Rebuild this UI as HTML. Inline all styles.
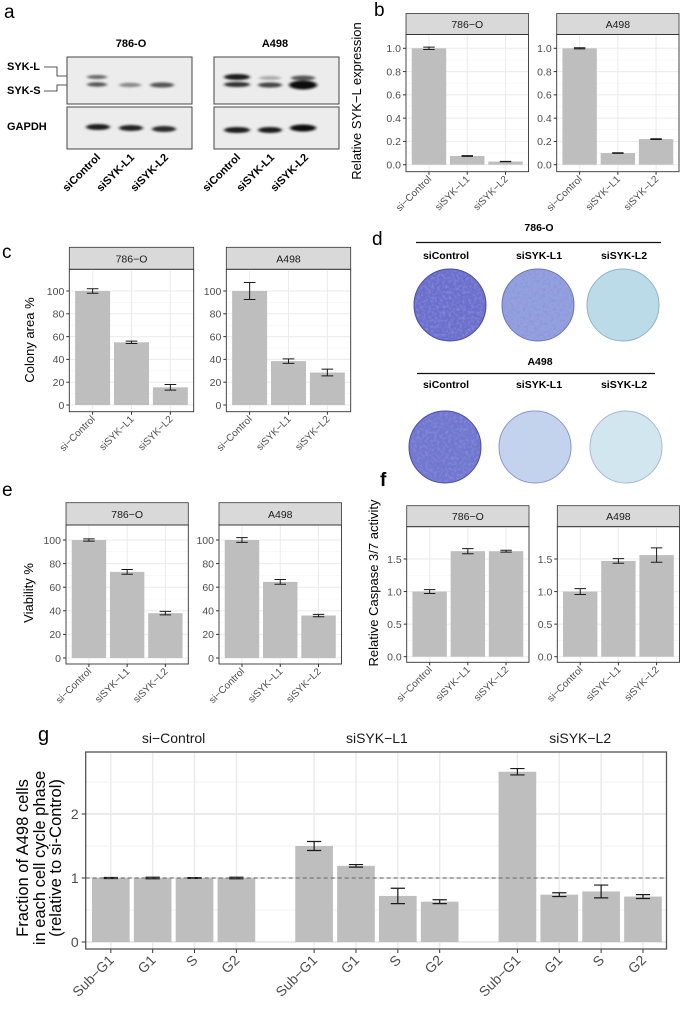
<!DOCTYPE html>
<html><head><meta charset="utf-8">
<style>
body{margin:0;background:#fff;}
svg{display:block;font-family:"Liberation Sans",Arial,sans-serif;}
</style></head>
<body>
<svg id="fig" width="680" height="1009" viewBox="0 0 680 1009" xmlns="http://www.w3.org/2000/svg">
<defs>
<filter id="blur" x="-30%" y="-100%" width="160%" height="300%"><feGaussianBlur stdDeviation="1.6 1.1"/></filter>
<filter id="speck" x="0" y="0" width="100%" height="100%">
<feTurbulence type="fractalNoise" baseFrequency="0.35" numOctaves="2" seed="3" result="n"/>
<feColorMatrix in="n" type="matrix" values="0 0 0 0 0.25  0 0 0 0 0.25  0 0 0 0 0.7  0 0 0 -2.2 1.3" result="m"/>
<feComposite in="m" in2="SourceGraphic" operator="in"/>
</filter>
</defs>

<!-- panel a -->
<g>
<text x="4" y="18" font-size="19">a</text>
<text x="131" y="47" font-size="11" font-weight="bold" text-anchor="middle">786-O</text>
<text x="275" y="47" font-size="11" font-weight="bold" text-anchor="middle">A498</text>
<text x="7" y="70" font-size="11" font-weight="bold">SYK-L</text>
<text x="7" y="94" font-size="11" font-weight="bold">SYK-S</text>
<text x="7" y="130" font-size="11" font-weight="bold">GAPDH</text>
<polyline points="44,67 57,67 57,76 68,76" fill="none" stroke="#222" stroke-width="0.8"/>
<polyline points="44,91 57,91 57,85 68,85" fill="none" stroke="#222" stroke-width="0.8"/>
<rect x="67" y="57" width="125" height="47" fill="#ececec" stroke="#444"/>
<rect x="67" y="107" width="125" height="42" fill="#ececec" stroke="#444"/>
<rect x="214" y="57" width="125" height="47" fill="#ececec" stroke="#444"/>
<rect x="214" y="107" width="125" height="42" fill="#ececec" stroke="#444"/>
<g filter="url(#blur)">
<ellipse cx="97" cy="77" rx="10" ry="2" fill="#666"/>
<ellipse cx="97" cy="84.5" rx="10" ry="2.2" fill="#555"/>
<ellipse cx="130" cy="85" rx="11" ry="2.2" fill="#888"/>
<ellipse cx="162" cy="85" rx="12" ry="2.6" fill="#555"/>
<ellipse cx="98" cy="127" rx="12" ry="3" fill="#1a1a1a"/>
<ellipse cx="131" cy="128" rx="12" ry="3" fill="#222"/>
<ellipse cx="164" cy="129" rx="12" ry="3" fill="#2a2a2a"/>
<ellipse cx="237" cy="77" rx="13" ry="3" fill="#1a1a1a"/>
<ellipse cx="237" cy="84.5" rx="13" ry="2.6" fill="#333"/>
<ellipse cx="270" cy="78" rx="11" ry="2" fill="#aaa"/>
<ellipse cx="270" cy="85" rx="12" ry="2.6" fill="#444"/>
<ellipse cx="303" cy="78" rx="12" ry="2.5" fill="#555"/>
<ellipse cx="303" cy="85" rx="14" ry="4.5" fill="#111"/>
<ellipse cx="237" cy="130" rx="13" ry="3" fill="#1a1a1a"/>
<ellipse cx="270" cy="130" rx="12" ry="3" fill="#1a1a1a"/>
<ellipse cx="303" cy="128" rx="13" ry="3.5" fill="#111"/>
</g>
<g font-size="11" font-weight="bold" text-anchor="end">
<text transform="translate(101,158) rotate(-45)">siControl</text>
<text transform="translate(135,158) rotate(-45)">siSYK-L1</text>
<text transform="translate(169,158) rotate(-45)">siSYK-L2</text>
<text transform="translate(241,158) rotate(-45)">siControl</text>
<text transform="translate(275,158) rotate(-45)">siSYK-L1</text>
<text transform="translate(309,158) rotate(-45)">siSYK-L2</text>
</g>
</g>

<!-- panel d -->
<g>
<text x="372" y="245" font-size="19">d</text>
<text x="539" y="231" font-size="10.5" font-weight="bold" text-anchor="middle">786-O</text>
<line x1="416" y1="242.5" x2="661" y2="242.5" stroke="#111" stroke-width="1.3"/>
<g font-size="10.5" font-weight="bold" text-anchor="middle">
<text x="446" y="259">siControl</text>
<text x="539" y="259">siSYK-L1</text>
<text x="624" y="259">siSYK-L2</text>
</g>
<text x="540" y="365" font-size="10.5" font-weight="bold" text-anchor="middle">A498</text>
<line x1="417" y1="373.5" x2="655" y2="373.5" stroke="#111" stroke-width="1.3"/>
<g font-size="10.5" font-weight="bold" text-anchor="middle">
<text x="446" y="388">siControl</text>
<text x="539" y="388">siSYK-L1</text>
<text x="624" y="388">siSYK-L2</text>
</g>
<g><circle cx="450" cy="305" r="36" fill="#6a6fcb" stroke="#4a4fa8"/><circle cx="450" cy="305" r="35" fill="#8e95d8" filter="url(#speck)"/></g>
<g><circle cx="538" cy="305" r="36" fill="#93a2de" stroke="#6a74c0"/><circle cx="538" cy="305" r="35" fill="#aab6e4" filter="url(#speck)" opacity="0.6"/></g>
<g><circle cx="623" cy="305" r="36" fill="#bcdbe8" stroke="#8fb3cc"/></g>
<g><circle cx="445" cy="447" r="36" fill="#7077cf" stroke="#4a4fa8"/><circle cx="445" cy="447" r="35" fill="#98a0dc" filter="url(#speck)"/></g>
<g><circle cx="535" cy="447" r="36" fill="#c3d3ee" stroke="#8a96d0"/></g>
<g><circle cx="626" cy="447" r="36" fill="#d2e6f0" stroke="#a6b8d8"/></g>
</g>

<text x="374" y="16" font-size="19">b</text>
<text x="2" y="258" font-size="19">c</text>
<text x="2" y="496" font-size="19">e</text>
<text x="380" y="486" font-size="19" font-weight="bold">f</text>
<text x="38" y="741" font-size="20">g</text>

<g id="charts"></g>
</svg>

<script>
// ---- data ----
const catsBCEF = ["si\u2212Control", "siSYK\u2212L1", "siSYK\u2212L2"];
const facetNames = ["786\u2212O", "A498"];
// panel b
const bVals786 = [1.0, 0.075, 0.027];
const bErr786 = [0.01, 0.003, 0.002];
const bValsA498 = [1.0, 0.10, 0.22];
const bErrA498 = [0.005, 0.003, 0.003];
const bTicks = [0, 0.2, 0.4, 0.6, 0.8, 1.0];
const bTickLabels = ["0.0", "0.2", "0.4", "0.6", "0.8", "1.0"];
// panel c
const cVals786 = [100, 55, 15.5];
const cErr786 = [2, 1, 2.5];
const cValsA498 = [100, 38.5, 28.5];
const cErrA498 = [7.5, 2, 3];
const pctTicks = [0, 20, 40, 60, 80, 100];
const pctTickLabels = ["0", "20", "40", "60", "80", "100"];
// panel e
const eVals786 = [100, 73, 38];
const eErr786 = [1, 2, 1.5];
const eValsA498 = [100, 64.5, 36];
const eErrA498 = [2, 2, 1];
// panel f
const fVals786 = [1.0, 1.62, 1.62];
const fErr786 = [0.03, 0.04, 0.015];
const fValsA498 = [1.0, 1.47, 1.56];
const fErrA498 = [0.045, 0.035, 0.11];
const fTicks = [0, 0.5, 1.0, 1.5];
const fTickLabels = ["0.0", "0.5", "1.0", "1.5"];
// panel g
const gFacets = ["si\u2212Control", "siSYK\u2212L1", "siSYK\u2212L2"];
const gCats = ["Sub\u2212G1", "G1", "S", "G2"];
const gValsControl = [1.0, 1.0, 1.0, 1.0];
const gErrControl = [0.008, 0.012, 0.006, 0.012];
const gValsL1 = [1.5, 1.19, 0.72, 0.63];
const gErrL1 = [0.07, 0.02, 0.12, 0.03];
const gValsL2 = [2.66, 0.74, 0.79, 0.71];
const gErrL2 = [0.05, 0.03, 0.1, 0.03];
const gTicks = [0, 1, 2];
const gTickLabels = ["0", "1", "2"];

const NS = "http://www.w3.org/2000/svg";
const root = document.getElementById("charts");
function mk(tag, attrs, parent) {
  const e = document.createElementNS(NS, tag);
  for (const k in attrs) e.setAttribute(k, attrs[k]);
  (parent || root).appendChild(e);
  return e;
}
function linScale(v0, p0, v1, p1) { return v => p0 + (v - v0) * (p1 - p0) / (v1 - v0); }

function facetPanel(o) {
  const g = mk("g", {});
  
  
  const y = o.y;
  const W = o.x1 - o.x0;
  const step = W / (o.cats.length - 1 + 1.2);
  const xc = i => o.x0 + 0.6 * step + i * step;
  mk("rect", {x: o.x0, y: o.stripTop, width: W, height: o.pTop - o.stripTop, fill: "#d9d9d9", stroke: "#333", "stroke-width": 0.8}, g);
  const st = mk("text", {x: (o.x0 + o.x1) / 2, y: (o.stripTop + o.pTop) / 2 + 4, "font-size": 10.5, fill: "#1a1a1a", "text-anchor": "middle"}, g);
  st.textContent = o.title;
  
  
  // grid
  for (let i = 0; i < o.minor.length; i++) {
    mk("line", {x1: o.x0, x2: o.x1, y1: y(o.minor[i]), y2: y(o.minor[i]), stroke: "#f2f2f2", "stroke-width": 0.5}, g);
  }
  for (let i = 0; i < o.ticks.length; i++) {
    mk("line", {x1: o.x0, x2: o.x1, y1: y(o.ticks[i]), y2: y(o.ticks[i]), stroke: "#ebebeb", "stroke-width": 1}, g);
  }
  for (let i = 0; i < o.cats.length; i++) {
    mk("line", {x1: xc(i), x2: xc(i), y1: o.pTop, y2: o.pBot, stroke: "#ebebeb", "stroke-width": 1}, g);
  }
  // bars
  for (let i = 0; i < o.vals.length; i++) {
    const b = mk("rect", {x: xc(i) - 0.45 * step, y: y(o.vals[i]), width: 0.9 * step, height: y(0) - y(o.vals[i]), fill: "#bebebe"}, g);
    
    
    const lo = y(o.vals[i] - o.errs[i]), hi = y(o.vals[i] + o.errs[i]);
    const hw = 0.15 * step;
    const eb = mk("path", {d: `M${xc(i)-hw},${hi}H${xc(i)+hw}M${xc(i)},${hi}V${lo}M${xc(i)-hw},${lo}H${xc(i)+hw}`, stroke: "#1a1a1a", "stroke-width": 1, fill: "none"}, g);
    
    
  }
  if (o.hline !== undefined) {
    mk("line", {x1: o.x0, x2: o.x1, y1: y(o.hline), y2: y(o.hline), stroke: "#666", "stroke-width": 1, "stroke-dasharray": "4,3"}, g);
  }
  mk("rect", {x: o.x0, y: o.pTop, width: W, height: o.pBot - o.pTop, fill: "none", stroke: "#333", "stroke-width": 0.9}, g);
  // y ticks
  for (let i = 0; i < o.ticks.length; i++) {
    mk("line", {x1: o.x0 - 3, x2: o.x0, y1: y(o.ticks[i]), y2: y(o.ticks[i]), stroke: "#333"}, g);
    const t = mk("text", {x: o.x0 - 5, y: y(o.ticks[i]) + 3.8, "font-size": o.tfs || 10.5, fill: "#4d4d4d", "text-anchor": "end"}, g);
    t.textContent = o.tickLabels[i];
    
    
  }
  // x ticks
  for (let i = 0; i < o.cats.length; i++) {
    mk("line", {x1: xc(i), x2: xc(i), y1: o.pBot, y2: o.pBot + 3, stroke: "#333"}, g);
    const t = mk("text", {transform: `translate(${xc(i) + 3},${o.pBot + 8}) rotate(-45)`, "font-size": o.xfs || 10, fill: "#4d4d4d", "text-anchor": "end"}, g);
    t.textContent = o.cats[i];
    
    
  }
}
function yTitle(txt, x, yc, fs, name) {
  const t = mk("text", {transform: `translate(${x},${yc}) rotate(-90)`, "font-size": fs, fill: "#000", "text-anchor": "middle"});
  t.textContent = txt;
  
  
}
function minorOf(ticks) {
  const m = [];
  for (let i = 0; i < ticks.length - 1; i++) m.push((ticks[i] + ticks[i + 1]) / 2);
  return m;
}

// panel b
const yb = linScale(0, 164.7, 1, 48.3);
facetPanel({name: "panel-b-786-o", title: facetNames[0], cats: catsBCEF, vals: bVals786, errs: bErr786, x0: 406, x1: 528.5, stripTop: 13.5, pTop: 34.5, pBot: 171.7, y: yb, ticks: bTicks, tickLabels: bTickLabels, minor: minorOf(bTicks)});
facetPanel({name: "panel-b-a498", title: facetNames[1], cats: catsBCEF, vals: bValsA498, errs: bErrA498, x0: 556.7, x1: 679, stripTop: 13.5, pTop: 34.5, pBot: 171.7, y: yb, ticks: bTicks, tickLabels: bTickLabels, minor: minorOf(bTicks)});
yTitle("Relative SYK\u2212L expression", 361, 101, 13, "y-axis-title-b");

// panel c
const yc = linScale(0, 405, 100, 291);
facetPanel({name: "panel-c-786-o", title: facetNames[0], cats: catsBCEF, vals: cVals786, errs: cErr786, x0: 69.3, x1: 193.7, stripTop: 247.3, pTop: 269.3, pBot: 411.7, y: yc, ticks: pctTicks, tickLabels: pctTickLabels, minor: minorOf(pctTicks)});
facetPanel({name: "panel-c-a498", title: facetNames[1], cats: catsBCEF, vals: cValsA498, errs: cErrA498, x0: 226.3, x1: 350.7, stripTop: 247.3, pTop: 269.3, pBot: 411.7, y: yc, ticks: pctTicks, tickLabels: pctTickLabels, minor: minorOf(pctTicks)});
yTitle("Colony area %", 34, 340, 13, "y-axis-title-c");

// panel e
const ye = linScale(0, 658, 100, 540);
facetPanel({name: "panel-e-786-o", title: facetNames[0], cats: catsBCEF, vals: eVals786, errs: eErr786, x0: 66, x1: 188.3, stripTop: 502.7, pTop: 525, pBot: 664, y: ye, ticks: pctTicks, tickLabels: pctTickLabels, minor: minorOf(pctTicks)});
facetPanel({name: "panel-e-a498", title: facetNames[1], cats: catsBCEF, vals: eValsA498, errs: eErrA498, x0: 219, x1: 341.5, stripTop: 502.7, pTop: 525, pBot: 664, y: ye, ticks: pctTicks, tickLabels: pctTickLabels, minor: minorOf(pctTicks)});
yTitle("Viability %", 33, 593, 13, "y-axis-title-e");

// panel f
const yf = linScale(0, 656.7, 1.5, 559);
facetPanel({name: "panel-f-786-o", title: facetNames[0], cats: catsBCEF, vals: fVals786, errs: fErr786, x0: 406.7, x1: 529, stripTop: 505.7, pTop: 526.7, pBot: 662.3, y: yf, ticks: fTicks, tickLabels: fTickLabels, minor: minorOf(fTicks)});
facetPanel({name: "panel-f-a498", title: facetNames[1], cats: catsBCEF, vals: fValsA498, errs: fErrA498, x0: 557.3, x1: 679.5, stripTop: 505.7, pTop: 526.7, pBot: 662.3, y: yf, ticks: fTicks, tickLabels: fTickLabels, minor: minorOf(fTicks)});
yTitle("Relative Caspase 3/7 activity", 378, 583, 13, "y-axis-title-f");

// panel g
(function () {
  const y = linScale(0, 942, 1, 878);
  const X0 = 85.7, X1 = 666.5, top = 752, bot = 949;
  const facetW = 175.8, gap = 27.5;
  const step = facetW / 4.2;
  const vals = [gValsControl, gValsL1, gValsL2];
  const errs = [gErrControl, gErrL1, gErrL2];
  const xc = (f, i) => X0 + f * (facetW + gap) + 0.6 * step + i * step;
  const g = mk("g", {});
  
  
  const minor = [0.5, 1.5, 2.5];
  for (const m of minor) mk("line", {x1: X0, x2: X1, y1: y(m), y2: y(m), stroke: "#f2f2f2", "stroke-width": 1}, g);
  for (const t of gTicks) mk("line", {x1: X0, x2: X1, y1: y(t), y2: y(t), stroke: "#ebebeb", "stroke-width": 2}, g);
  for (let f = 0; f < 3; f++) for (let i = 0; i < gCats.length; i++)
    mk("line", {x1: xc(f, i), x2: xc(f, i), y1: top, y2: bot, stroke: "#ebebeb", "stroke-width": 1.5}, g);
  for (let f = 0; f < 3; f++) {
    const ft = mk("text", {x: X0 + f * (facetW + gap) + facetW / 2, y: 743, "font-size": 14, fill: "#1a1a1a", "text-anchor": "middle"}, g);
    ft.textContent = gFacets[f];
    
    
    for (let i = 0; i < gCats.length; i++) {
      const v = vals[f][i], e = errs[f][i], x = xc(f, i);
      const b = mk("rect", {x: x - 0.45 * step, y: y(v), width: 0.9 * step, height: y(0) - y(v), fill: "#bebebe"}, g);
      
      
      const hw = 0.17 * step, hi = y(v + e), lo = y(v - e);
      const eb = mk("path", {d: `M${x-hw},${hi}H${x+hw}M${x},${hi}V${lo}M${x-hw},${lo}H${x+hw}`, stroke: "#1a1a1a", "stroke-width": 1.2, fill: "none"}, g);
      
      
      mk("line", {x1: x, x2: x, y1: bot, y2: bot + 4, stroke: "#333"}, g);
      const t = mk("text", {transform: `translate(${x + 4},${bot + 12}) rotate(-45)`, "font-size": 14, fill: "#4d4d4d", "text-anchor": "end"}, g);
      t.textContent = gCats[i];
      
      
    }
  }
  mk("line", {x1: X0, x2: X1, y1: y(1), y2: y(1), stroke: "#666", "stroke-width": 1, "stroke-dasharray": "4,3"}, g);
  mk("rect", {x: X0, y: top, width: X1 - X0, height: bot - top, fill: "none", stroke: "#555", "stroke-width": 1.3}, g);
  for (let i = 0; i < gTicks.length; i++) {
    mk("line", {x1: X0 - 4, x2: X0, y1: y(gTicks[i]), y2: y(gTicks[i]), stroke: "#333"}, g);
    const t = mk("text", {x: X0 - 7, y: y(gTicks[i]) + 5, "font-size": 14, fill: "#4d4d4d", "text-anchor": "end"}, g);
    t.textContent = gTickLabels[i];
    
    
  }
  const lines = ["Fraction of A498 cells", "in each cell cycle phase", "(relative to si-Control)"];
  const xs = [28, 45, 61];
  for (let k = 0; k < 3; k++) {
    const t = mk("text", {transform: `translate(${xs[k]},858) rotate(-90)`, "font-size": 16.5, fill: "#000", "text-anchor": "middle"}, g);
    t.textContent = lines[k];
    
    
  }
})();
</script>
</body></html>
